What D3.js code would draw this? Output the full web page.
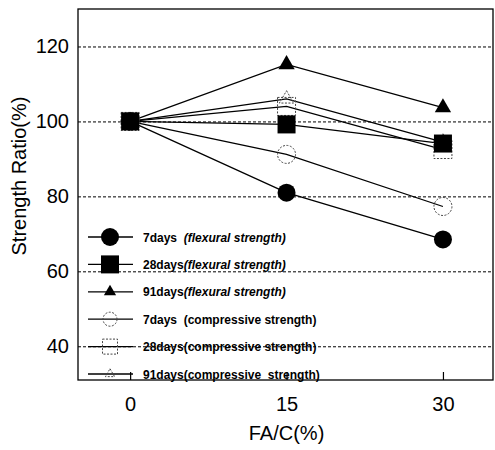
<!DOCTYPE html>
<html>
<head>
<meta charset="utf-8">
<script src="https://cdn.jsdelivr.net/npm/d3@7"></script>
<style>
  html, body { margin: 0; padding: 0; background: #fff; }
  svg { display: block; }
  text { font-family: "Liberation Sans", Arial, sans-serif; fill: #000; }
</style>
</head>
<body>
<svg id="chart" width="495" height="450"></svg>
<script>
// FA/C replacement ratio (%)
const faLevels = [0, 15, 30];

// Strength ratio (%) relative to the plain mix
const flexural7  = [100, 81, 68.5];
const flexural28 = [100, 99.2, 94.1];
const flexural91 = [100, 115.2, 103.7];
const compressive7  = [100, 91.2, 77.3];
const compressive28 = [100, 104, 92.5];
const compressive91 = [100, 106, 94.5];

const yTicks = [40, 60, 80, 100, 120];
const xTicks = [0, 15, 30];

const seriesNames = [
  ["7days  ", "(flexural strength)", true],
  ["28days", "(flexural strength)", true],
  ["91days", "(flexural strength)", true],
  ["7days  ", "(compressive strength)", false],
  ["28days", "(compressive strength)", false],
  ["91days", "(compressive  strength)", false]
];

const svg = d3.select("#chart");
const plotLeft = 78, plotRight = 493, plotTop = 9, plotBottom = 380;

const x = d3.scaleLinear().domain([-5, 34.8]).range([plotLeft, plotRight]);
const y = d3.scaleLinear().domain([31, 130]).range([plotBottom, plotTop]);

// dashed horizontal grid with tick labels
const yAxis = svg.append("g")
  .attr("transform", `translate(${plotLeft},0)`)
  .call(d3.axisLeft(y).tickValues(yTicks).tickSize(-(plotRight - plotLeft)).tickPadding(9));
yAxis.select(".domain").remove();
yAxis.selectAll(".tick line")
  .attr("stroke", "#000").attr("stroke-width", 1).attr("stroke-dasharray", "3,2");
yAxis.selectAll(".tick text")
  .style("font-size", "20px").style("font-family", "'Liberation Sans', Arial, sans-serif");

// x axis with inward ticks
const xAxis = svg.append("g")
  .attr("transform", `translate(0,${plotBottom})`)
  .call(d3.axisBottom(x).tickValues(xTicks).tickSize(-8).tickPadding(17));
xAxis.select(".domain").remove();
xAxis.selectAll(".tick line").attr("stroke", "#000").attr("stroke-width", 1.2);
xAxis.selectAll(".tick text")
  .style("font-size", "20px").style("font-family", "'Liberation Sans', Arial, sans-serif");

// plot frame
svg.append("rect")
  .attr("x", plotLeft).attr("y", plotTop)
  .attr("width", plotRight - plotLeft).attr("height", plotBottom - plotTop)
  .attr("fill", "none").attr("stroke", "#000").attr("stroke-width", 1.3);

// axis titles
svg.append("text")
  .attr("x", x(15)).attr("y", 440)
  .attr("text-anchor", "middle").style("font-size", "20px")
  .text("FA/C(%)");
svg.append("text")
  .attr("transform", "translate(26,176) rotate(-90)")
  .attr("text-anchor", "middle").style("font-size", "20px")
  .text("Strength Ratio(%)");

// marker painters
const dotted = g => g.attr("fill", "none").attr("stroke", "#444")
  .attr("stroke-width", 1).attr("stroke-dasharray", "2,1.5");

function drawMarker(g, kind, cx, cy, s) {
  if (kind === "fcircle") {
    g.append("circle").attr("cx", cx).attr("cy", cy).attr("r", s / 2).attr("fill", "#000");
  } else if (kind === "fsquare") {
    g.append("rect").attr("x", cx - s / 2).attr("y", cy - s / 2)
      .attr("width", s).attr("height", s).attr("fill", "#000");
  } else if (kind === "ftri") {
    g.append("path").attr("d", d3.symbol(d3.symbolTriangle, s * s * 0.45)())
      .attr("transform", `translate(${cx},${cy})`).attr("fill", "#000");
  } else if (kind === "ocircle") {
    g.append("circle").attr("cx", cx).attr("cy", cy).attr("r", s / 2).call(dotted);
  } else if (kind === "osquare") {
    g.append("rect").attr("x", cx - s / 2).attr("y", cy - s / 2)
      .attr("width", s).attr("height", s).call(dotted);
  } else if (kind === "otri") {
    g.append("path").attr("d", d3.symbol(d3.symbolTriangle, s * s * 0.45)())
      .attr("transform", `translate(${cx},${cy})`).call(dotted);
  }
}

const series = [
  { values: compressive91, kind: "otri",    size: 14 },
  { values: compressive28, kind: "osquare", size: 18 },
  { values: compressive7,  kind: "ocircle", size: 18 },
  { values: flexural91,    kind: "ftri",    size: 16 },
  { values: flexural7,     kind: "fcircle", size: 18 },
  { values: flexural28,    kind: "fsquare", size: 18 }
];

const line = d3.line().x(d => x(d[0])).y(d => y(d[1]));
const plot = svg.append("g");

series.forEach(s => {
  const pts = faLevels.map((f, i) => [f, s.values[i]]);
  plot.append("path").attr("d", line(pts))
    .attr("fill", "none").attr("stroke", "#000").attr("stroke-width", 1.3);
});
series.forEach(s => {
  faLevels.forEach((f, i) => drawMarker(plot, s.kind, x(f), y(s.values[i]), s.size));
});

// legend
const legendKinds = [
  ["fcircle", 18], ["fsquare", 18], ["ftri", 12],
  ["ocircle", 14], ["osquare", 15], ["otri", 9]
];
const legend = svg.append("g");
seriesNames.forEach((nm, i) => {
  const cy = 237 + i * 27.4;
  legend.append("line").attr("x1", 88).attr("x2", 133).attr("y1", cy).attr("y2", cy)
    .attr("stroke", "#000").attr("stroke-width", 1.3);
  drawMarker(legend, legendKinds[i][0], 110, cy, legendKinds[i][1]);
  const t = legend.append("text")
    .attr("x", 143).attr("y", cy + 4.5)
    .style("font-size", "12px").style("font-weight", "bold")
    .attr("xml:space", "preserve").style("white-space", "pre");
  t.append("tspan").text(nm[0]);
  t.append("tspan").style("font-style", nm[2] ? "italic" : "normal").text(nm[1]);
});
</script>
</body>
</html>
